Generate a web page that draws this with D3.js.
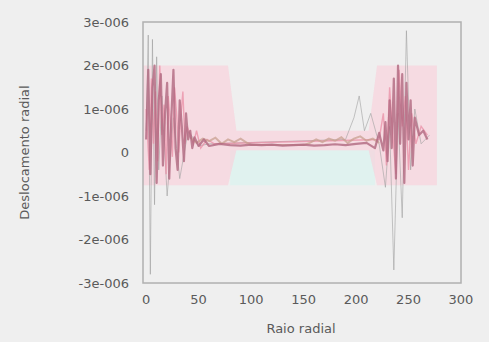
<!DOCTYPE html>
<html>
<head>
<meta charset="utf-8">
<script src="https://cdn.jsdelivr.net/npm/d3@7"></script>
<style>
  html, body { margin: 0; padding: 0; background: #efefef; }
  svg { display: block; }
</style>
</head>
<body>
<svg id="chart" width="489" height="342"></svg>
<script>
// deslocamento radial ao longo da base — valores em 1e-6 m

const yTicks = [3e-6, 2e-6, 1e-6, 0, -1e-6, -2e-6, -3e-6];
const yTickLabels = ['3e-006', '2e-006', '1e-006', '0', '-1e-006', '-2e-006', '-3e-006'];
const xTicks = [0, 50, 100, 150, 200, 250, 300];

// envelope rosa
const bandX  = [-3, 78, 86, 212, 220, 277];
const bandHi = [2.0, 2.0, 0.5, 0.5, 2.0, 2.0];
const bandLo = [-0.75, -0.75, 0.05, 0.05, -0.75, -0.75];
// faixa ciano do meio
const cyanX  = [80, 218];
const cyanHi = [0.05, 0.05];
const cyanLo = [-0.75, -0.75];

// série principal (vermelha)
const redX = [0, 2, 4, 6, 8, 10, 12, 14, 16, 18, 20, 22, 24, 26, 28, 30, 32, 34, 36, 38, 40, 42, 44, 46, 50, 55,
              60, 70, 80, 90, 100, 110, 120, 130, 140, 150, 160, 170, 180, 190, 200, 210, 218, 222, 226, 228, 230,
              232, 234, 236, 238, 240, 242, 244, 246, 248, 250, 252, 254, 256, 260, 264, 268];
const redY = [0.3, 1.9, -0.5, 1.5, 2.0, -0.7, 1.2, 1.8, -0.3, 0.9, 1.6, -0.6, 0.8, 1.9, 0.1, -0.4, 1.2, 0.6, -0.2, 0.9, 0.3, 0.5, 0.1, 0.35, 0.15, 0.3,
              0.15, 0.2, 0.17, 0.16, 0.18, 0.17, 0.18, 0.16, 0.17, 0.18, 0.16, 0.17, 0.19, 0.17, 0.2, 0.22, 0.1, 0.45, 0.05, 0.7, -0.2,
              1.2, 0.1, 1.7, -0.6, 2.0, 0.2, 1.8, -0.7, 1.6, 0.3, 1.2, -0.3, 0.8, 0.4, 0.5, 0.3];

// série secundária (rosa)
const pinkX = [0, 3, 5, 7, 9, 11, 13, 15, 17, 19, 21, 23, 25, 27, 29, 31, 33, 35, 37, 39, 42, 45, 48, 52, 58, 65,
               222, 226, 229, 232, 235, 238, 241, 244, 247, 250, 253, 257, 262, 268];
const pinkY = [1.0, -0.4, 1.7, 0.2, 1.4, -0.2, 2.0, 0.4, 1.1, -0.5, 1.3, 0.7, -0.1, 1.5, 0.9, 0.0, 0.8, 1.4, 0.2, 0.6, 0.4, 0.2, 0.5, 0.1, 0.3, 0.2,
               0.3, 0.9, -0.3, 1.5, 0.4, -0.5, 1.9, 0.6, 1.3, -0.4, 0.9, 0.2, 0.6, 0.4];

// série marrom
const brownX = [42, 48, 54, 60, 66, 72, 78, 84, 90, 96, 100, 150, 156, 162, 168, 174, 180, 186, 192, 198, 204, 210, 216, 222];
const brownY = [0.35, 0.22, 0.32, 0.26, 0.34, 0.2, 0.3, 0.24, 0.32, 0.22, 0.18, 0.17, 0.22, 0.3, 0.24, 0.32, 0.27, 0.35, 0.22, 0.32, 0.37, 0.27, 0.32, 0.22];

// série cinza
const grayX = [0, 2, 4, 6, 8, 10, 12, 15, 20, 26, 32, 40, 50, 60, 190, 198, 203, 208, 214, 222, 228, 232, 236, 240, 244, 248, 252, 256, 262, 270];
const grayY = [0.5, 2.7, -2.8, 2.6, -1.2, 2.2, -0.4, 1.3, -1.0, 0.8, -0.6, 0.5, 0.15, 0.2, 0.3, 0.8, 1.3, 0.5, 0.9, 0.2, -0.8, 0.6, -2.7, 0.9, -1.5, 2.8, -0.4, 1.0, 0.2, 0.4];

const svg = d3.select('#chart');
const W = 489, H = 342;
const L = 143, R = 461, T = 22, B = 283;

svg.append('rect').attr('width', W).attr('height', H).attr('fill', '#efefef');

const x = d3.scaleLinear().domain([-3, 300]).range([L, R]);
const y = d3.scaleLinear().domain([-3e-6, 3e-6]).range([B, T]);
const E = 1e-6;

const zip = (xs, ys) => xs.map((v, i) => [v, ys[i]]);
const zip3 = (xs, hi, lo) => xs.map((v, i) => [v, hi[i], lo[i]]);

const area = d3.area().x(d => x(d[0])).y0(d => y(d[2] * E)).y1(d => y(d[1] * E));
const line = d3.line().x(d => x(d[0])).y(d => y(d[1] * E));

const g = svg.append('g');

g.append('path').datum(zip3(cyanX, cyanHi, cyanLo)).attr('d', area)
  .attr('fill', '#dcf3ef').attr('opacity', 0.8);
g.append('path').datum(zip3(bandX, bandHi, bandLo)).attr('d', area)
  .attr('fill', '#f9d0da').attr('opacity', 0.65);

g.append('path').datum(zip(grayX, grayY)).attr('d', line)
  .attr('fill', 'none').attr('stroke', '#a0a0a0').attr('stroke-width', 1).attr('opacity', 0.6);
g.append('path').datum(zip(pinkX, pinkY)).attr('d', line)
  .attr('fill', 'none').attr('stroke', '#e98aa2').attr('stroke-width', 1.4).attr('opacity', 0.7);
g.append('path').datum(zip(brownX, brownY)).attr('d', line)
  .attr('fill', 'none').attr('stroke', '#c8a090').attr('stroke-width', 2).attr('opacity', 0.75);
g.append('path').datum(zip(redX, redY)).attr('d', line)
  .attr('fill', 'none').attr('stroke', '#b06880').attr('stroke-width', 2.2).attr('opacity', 0.8)
  .attr('stroke-linejoin', 'round');

// moldura
svg.append('rect').attr('x', L).attr('y', T).attr('width', R - L).attr('height', B - T)
  .attr('fill', 'none').attr('stroke', '#b0b0b0').attr('stroke-width', 1.5);

// eixos
const txt = sel => sel.attr('font-family', 'DejaVu Sans').style('font-size', '13px').attr('fill', '#5a5a5a');

svg.append('g').selectAll('text').data(yTicks).join('text')
  .attr('x', 129).attr('y', d => y(d)).attr('dy', '0.35em')
  .attr('text-anchor', 'end')
  .call(txt)
  .text((d, i) => yTickLabels[i]);

svg.append('g').selectAll('text').data(xTicks).join('text')
  .attr('x', d => x(d)).attr('y', 304)
  .attr('text-anchor', 'middle')
  .call(txt)
  .text(d => d);

svg.append('text')
  .attr('transform', `translate(24,${(T + B) / 2}) rotate(-90)`)
  .attr('text-anchor', 'middle').attr('dy', '0.35em')
  .call(txt)
  .text('Deslocamento radial');

svg.append('text')
  .attr('x', 301).attr('y', 333).attr('text-anchor', 'middle')
  .call(txt)
  .text('Raio radial');
</script>
</body>
</html>
